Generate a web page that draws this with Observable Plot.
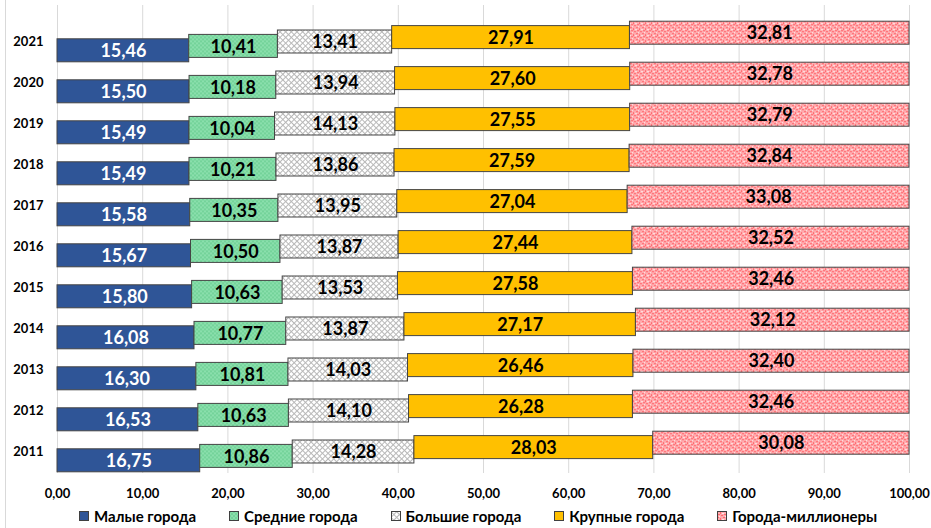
<!DOCTYPE html>
<html><head><meta charset="utf-8">
<script src="https://cdn.jsdelivr.net/npm/d3@7"></script>
<script src="https://cdn.jsdelivr.net/npm/@observablehq/plot@0.6"></script>
<style>
body{margin:0;background:#fff;font-family:Lato,"Open Sans",sans-serif;}
#wrap{position:relative;width:931px;height:528px;overflow:hidden;background:#fff}
#border{position:absolute;left:5px;top:0;width:0;height:528px;border-left:1px solid #d9d9d9}
#legend{position:absolute;top:507px;left:79px;display:flex;gap:33px;font-weight:bold;font-size:15px;color:#000;white-space:nowrap;line-height:18px}
#legend .it{display:flex;align-items:center;gap:5px}
#legend svg{display:block}
</style>
</head><body>
<svg width="0" height="0" style="position:absolute">
  <defs>
    <pattern id="pGreen" patternUnits="userSpaceOnUse" width="4" height="4">
      <rect width="4" height="4" fill="#8ADFAC"/>
      <rect width="2" height="2" fill="#74D39A"/>
      <rect x="2" y="2" width="2" height="2" fill="#74D39A"/>
    </pattern>
    <pattern id="pGrey" patternUnits="userSpaceOnUse" width="4" height="4" patternTransform="rotate(45)">
      <rect width="4" height="4" fill="#ffffff"/>
      <rect width="4" height="1" fill="#b8b8b8"/>
      <rect width="1" height="4" fill="#b8b8b8"/>
    </pattern>
    <pattern id="pPink" patternUnits="userSpaceOnUse" width="6" height="6">
      <rect width="6" height="6" fill="#FFABAE"/>
      <rect x="0" y="0" width="2" height="1" fill="#FF6A70"/>
      <rect x="3" y="1" width="1" height="2" fill="#FF6A70"/>
      <rect x="1" y="3" width="2" height="1" fill="#FF6A70"/>
      <rect x="4" y="4" width="2" height="1" fill="#FF6A70"/>
      <rect x="5" y="2" width="1" height="1" fill="#FFE6E6"/>
      <rect x="2" y="5" width="1" height="1" fill="#FFE6E6"/>
      <rect x="0" y="2" width="1" height="1" fill="#FFE6E6"/>
    </pattern>
  </defs>
</svg>
<div id="wrap"><div id="border"></div><div id="chart"></div><div id="legend"></div></div>
<script>
const years = [2011, 2012, 2013, 2014, 2015, 2016, 2017, 2018, 2019, 2020, 2021];
const cities = ["Малые города", "Средние города", "Большие города", "Крупные города", "Города-миллионеры"];
const small   = [16.75, 16.53, 16.30, 16.08, 15.80, 15.67, 15.58, 15.49, 15.49, 15.50, 15.46];
const medium  = [10.86, 10.63, 10.81, 10.77, 10.63, 10.50, 10.35, 10.21, 10.04, 10.18, 10.41];
const big     = [14.28, 14.10, 14.03, 13.87, 13.53, 13.87, 13.95, 13.86, 14.13, 13.94, 13.41];
const large   = [28.03, 26.28, 26.46, 27.17, 27.58, 27.44, 27.04, 27.59, 27.55, 27.60, 27.91];
const million = [30.08, 32.46, 32.40, 32.12, 32.46, 32.52, 33.08, 32.84, 32.79, 32.78, 32.81];
const xTicks = [0, 10, 20, 30, 40, 50, 60, 70, 80, 90, 100];

const series = [small, medium, big, large, million];
const fills = ["#2F5597", "url(#pGreen)", "url(#pGrey)", "#FFC000", "url(#pPink)"];
const textFills = ["#ffffff", "#000000", "#000000", "#000000", "#000000"];
const offsets = [8.8, 4.4, 0, -4.4, -8.8];

// stacked table
const table = [];
years.forEach((y, j) => {
  let acc = 0;
  series.forEach((s, i) => {
    const v = s[j];
    table.push({year: String(y), city: cities[i], si: i, value: v, x1: acc, x2: acc + v});
    acc += v;
  });
});
const fmt = v => v.toFixed(2).replace(".", ",");

const marks = [Plot.gridX(xTicks, {stroke: "#d9d9d9", strokeOpacity: 1})];
series.forEach((s, i) => {
  const rows = table.filter(d => d.si === i);
  marks.push(Plot.barX(rows, {x1: "x1", x2: "x2", y: "year", fill: fills[i], stroke: "#454545", strokeWidth: 1, dy: offsets[i]}));
});
series.forEach((s, i) => {
  const rows = table.filter(d => d.si === i);
  marks.push(Plot.text(rows, {x: d => (d.x1 + d.x2) / 2, y: "year", text: d => fmt(d.value), fill: textFills[i], dy: offsets[i] + 0.5, fontSize: 18, fontWeight: "bold"}));
});
marks.push(Plot.axisX({ticks: xTicks, tickFormat: fmt, tickSize: 0, tickPadding: 15, fontSize: 13, fontWeight: "bold"}));
marks.push(Plot.axisY({tickSize: 0, tickPadding: 14, fontSize: 13, fontWeight: "bold"}));

const chart = Plot.plot({
  width: 931,
  height: 505,
  marginLeft: 57,
  marginRight: 22,
  marginTop: 5,
  marginBottom: 32,
  style: {fontFamily: "Lato, 'Open Sans', sans-serif", color: "#000", background: "transparent", overflow: "visible"},
  x: {domain: [0, 100], label: null},
  y: {domain: years.map(String).reverse(), range: [11.8, 481.6], padding: 0.43, label: null},
  marks
});
document.getElementById("chart").appendChild(chart);

// legend
const leg = document.getElementById("legend");
cities.forEach((c, i) => {
  const it = document.createElement("div");
  it.className = "it";
  it.innerHTML = `<svg width="10" height="10"><rect x="0.5" y="0.5" width="9" height="9" fill="${fills[i]}" stroke="#404040" stroke-width="1"/></svg><span>${c}</span>`;
  leg.appendChild(it);
});
</script>
</body></html>
